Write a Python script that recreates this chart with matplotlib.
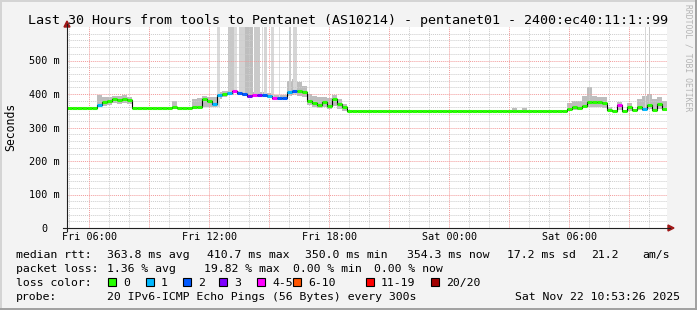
import datetime as dt
import matplotlib
matplotlib.use('Agg')
import matplotlib.pyplot as plt
import matplotlib.dates as mdates
from matplotlib.patches import Rectangle, Polygon
from matplotlib.lines import Line2D
from matplotlib.collections import LineCollection

plt.rcParams['font.family'] = 'DejaVu Sans Mono'

W, H = 697, 310

start = dt.datetime(2025, 11, 21, 4, 53, 26)
end = dt.datetime(2025, 11, 22, 10, 53, 26)
step = dt.timedelta(minutes=15)

# median rtt per 15 min sample (ms)
median_ms = ([359] * 6 + [366, 375, 378, 384, 381, 385, 383] + [359] * 8 + [360] + [359] * 3
             + [361, 362, 386, 380, 370, 396, 399, 403, 409, 402, 401, 394, 397, 398, 398, 395,
                388, 388, 389, 405, 410, 408, 405, 378, 372, 366, 376, 364, 386, 370, 360]
             + [350] * 44
             + [356, 362, 358, 365, 377, 375, 375, 372, 351, 350, 366, 350, 360, 351, 360, 356,
                366, 353, 370, 354])

# smoke band (lowest / highest ping per sample, ms)
smoke_lo = ([358] * 6 + [360, 365, 368, 372, 370, 372, 370] + [358] * 12
            + [356, 358, 362, 360, 362, 385, 392, 397, 402, 396, 395, 388, 391, 392, 392, 389,
               382, 382, 383, 395, 398, 395, 392, 368, 362, 358, 360, 355, 365, 355, 350]
            + [349] * 44
            + [350, 352, 352, 358, 362, 362, 360, 358, 349, 349, 352, 349, 350, 349, 352, 350,
               355, 350, 355, 350])
smoke_hi = ([362] * 6 + [397, 390, 392, 395, 393, 396, 392] + [362] * 8 + [380] + [362] * 3
            + [385, 388, 395, 392, 390, 405, 408, 410, 416, 410, 408, 402, 405, 406, 405, 402,
               398, 396, 398, 440, 445, 435, 425, 400, 395, 390, 392, 388, 398, 385, 370]
            + [353] * 33 + [358, 353, 358] + [353] * 8
            + [372, 380, 378, 395, 422, 395, 392, 390, 360, 353, 375, 353, 372, 353, 385, 395,
               400, 385, 392, 378])

# lost pings out of 20 per sample
loss = ([0] * 6 + [1] + [0] * 22
        + [1, 1, 0, 1, 4, 2, 2, 3, 4, 3, 2, 1, 4, 2, 2, 1, 2]
        + [0] * 64 + [4] + [0] * 4 + [1] + [0] * 4)

# very slow pings going off the top of the graph
spike_from = ['Fri 12:23', 'Fri 12:56', 'Fri 13:14', 'Fri 13:29', 'Fri 13:47', 'Fri 14:14', 'Fri 14:38',
              'Fri 14:44', 'Fri 15:05', 'Fri 15:29', 'Fri 15:59', 'Fri 16:11', 'Sat 09:47', 'Sat 09:59']
spike_to = ['Fri 12:32', 'Fri 13:14', 'Fri 13:23', 'Fri 13:47', 'Fri 14:11', 'Fri 14:32', 'Fri 14:41',
            'Fri 14:53', 'Fri 15:14', 'Fri 15:32', 'Fri 16:05', 'Fri 16:23', 'Sat 09:50', 'Sat 10:02']
spike_shade = ['#dadada', '#c8c8c8', '#dcdcdc', '#d2d2d2', '#bebebe', '#cacaca', '#dcdcdc',
               '#d6d6d6', '#d8d8d8', '#dcdcdc', '#cccccc', '#d6d6d6', '#d8d8d8', '#c8c8c8']

loss_labels = ['0', '1', '2', '3', '4-5', '6-10', '11-19', '20/20']
loss_colors = ['#26ff00', '#00b8ff', '#0059ff', '#7e00ff', '#ff00ff', '#ff5500', '#ff0000', '#a10000']
loss_limits = [0, 1, 2, 3, 5, 10, 19, 20]

ytick_vals = [100, 200, 300, 400, 500]
ytick_text = ['100 m', '200 m', '300 m', '400 m', '500 m']
xtick_times = ['Fri 06:00', 'Fri 12:00', 'Fri 18:00', 'Sat 00:00', 'Sat 06:00']


def parse(s):
    day, hm = s.split()
    d = 21 if day == 'Fri' else 22
    h, m = map(int, hm.split(':'))
    return dt.datetime(2025, 11, d, h, m)


def fx(x):
    return x / W


def fy(y):
    return 1 - y / H


def loss_color(n):
    for lim, c in zip(loss_limits, loss_colors):
        if n <= lim:
            return c
    return loss_colors[-1]


fig = plt.figure(figsize=(W / 100, H / 100), dpi=100, facecolor='#f3f3f3')
ax = fig.add_axes([fx(67), fy(228), 600 / W, 201 / H])
ax.set_facecolor('white')

times = [start + i * step for i in range(len(median_ms))]
edges = times + [times[-1] + step]

# smoke
ax.fill_between(edges, smoke_lo + [smoke_lo[-1]], smoke_hi + [smoke_hi[-1]], step='post',
                color='#bdbdbd', lw=0, zorder=1)
for a, b, c in zip(spike_from, spike_to, spike_shade):
    t0, t1 = parse(a), parse(b)
    idx = min(int((t0 - start) / step), len(smoke_lo) - 1)
    ax.fill_between([t0, t1], [smoke_lo[idx]] * 2, [700, 700], color=c, lw=0, zorder=1)

# grid
dotted = (0, (1, 1))
for v in range(20, 600, 20):
    ax.axhline(v, color='#f29a9a' if v % 100 == 0 else '#cccccc', lw=0.7, ls=dotted, zorder=2)
t = start.replace(minute=0, second=0) + dt.timedelta(hours=1)
while t < end:
    ax.axvline(t, color='#f29a9a' if t.hour % 3 == 0 else '#cccccc', lw=0.7, ls=dotted, zorder=2)
    t += dt.timedelta(hours=1)

# median line: black joins plus loss coloured segments
ax.step(edges, median_ms + [median_ms[-1]], where='post', color='black', lw=0.8, zorder=3)
segs, cols = [], []
for i, m in enumerate(median_ms):
    segs.append([(mdates.date2num(edges[i]), m), (mdates.date2num(edges[i + 1]), m)])
    cols.append(loss_color(loss[i]))
ax.add_collection(LineCollection(segs, colors=cols, linewidths=2.2, capstyle='butt', zorder=4))

ax.set_xlim(start, end)
ax.set_ylim(0, 600)
for s in ax.spines.values():
    s.set_visible(False)
ax.set_yticks(ytick_vals)
ax.set_yticklabels(ytick_text)
ax.set_xticks([parse(s) for s in xtick_times])
ax.set_xticklabels(xtick_times)
ax.tick_params(length=0, labelsize=7.3, colors='black')
ax.tick_params(axis='y', pad=5.2)
ax.tick_params(axis='x', pad=3)

# axes with arrows
fig.add_artist(Line2D([fx(67), fx(67)], [fy(231), fy(24)], color='#202020', lw=0.8))
fig.add_artist(Line2D([fx(63), fx(670)], [fy(228), fy(228)], color='#202020', lw=0.8))
fig.add_artist(Polygon([(fx(64), fy(27)), (fx(70), fy(27)), (fx(67), fy(21))], closed=True,
                       transform=fig.transFigure, color='#a01818'))
fig.add_artist(Polygon([(fx(668), fy(225)), (fx(668), fy(231)), (fx(674), fy(228))], closed=True,
                       transform=fig.transFigure, color='#a01818'))

# frame
fig.add_artist(Line2D([0, 1], [fy(1), fy(1)], color='#d4d4d4', lw=1.4))
fig.add_artist(Line2D([fx(1), fx(1)], [0, 1], color='#d4d4d4', lw=1.4))
fig.add_artist(Line2D([0, 1], [fy(309), fy(309)], color='#a0a0a0', lw=1.4))
fig.add_artist(Line2D([fx(696), fx(696)], [0, 1], color='#a0a0a0', lw=1.4))

fig.text(fx(348), fy(24), 'Last 30 Hours from tools to Pentanet (AS10214) - pentanet01 - 2400:ec40:11:1::99',
         ha='center', va='baseline', fontsize=9.6)
fig.text(fx(11), fy(127), 'Seconds', rotation=90, ha='center', va='center', fontsize=8.3)
fig.text(fx(47.5), fy(228), '0', ha='right', va='center_baseline', fontsize=7.3)
fig.text(fx(688), fy(58), 'RRDTOOL / TOBI OETIKER', rotation=270, ha='center', va='center',
         fontsize=5.8, color='#b4b4b4')

fs = 8.25
rows = [
    (258, [('median rtt:', 16), ('363.8 ms avg', 107), ('410.7 ms max', 207), ('350.0 ms min', 305),
           ('354.3 ms now', 407), ('17.2 ms sd', 507), ('21.2', 591), ('am/s', 642)]),
    (272, [('packet loss:', 16), ('1.36 % avg', 107), ('19.82 % max', 204), ('0.00 % min', 293),
           ('0.00 % now', 374)]),
    (286, [('loss color:', 16)]),
    (300, [('probe:', 16), ('20 IPv6-ICMP Echo Pings (56 Bytes) every 300s', 107)]),
]
for base, items in rows:
    for s, x in items:
        fig.text(fx(x), fy(base), s, ha='left', va='baseline', fontsize=fs)
fig.text(fx(680), fy(300), 'Sat Nov 22 10:53:26 2025', ha='right', va='baseline', fontsize=fs)

box_x = [108, 146, 183, 219, 257, 293, 366, 431]
for lab, c, x in zip(loss_labels, loss_colors, box_x):
    fig.add_artist(Rectangle((fx(x), fy(286)), 8 / W, 8 / H, transform=fig.transFigure,
                             facecolor=c, edgecolor='black', lw=0.8))
    fig.text(fx(x + 15), fy(286), lab, ha='left', va='baseline', fontsize=fs)

fig.savefig('out.png', dpi=100, facecolor=fig.get_facecolor())
